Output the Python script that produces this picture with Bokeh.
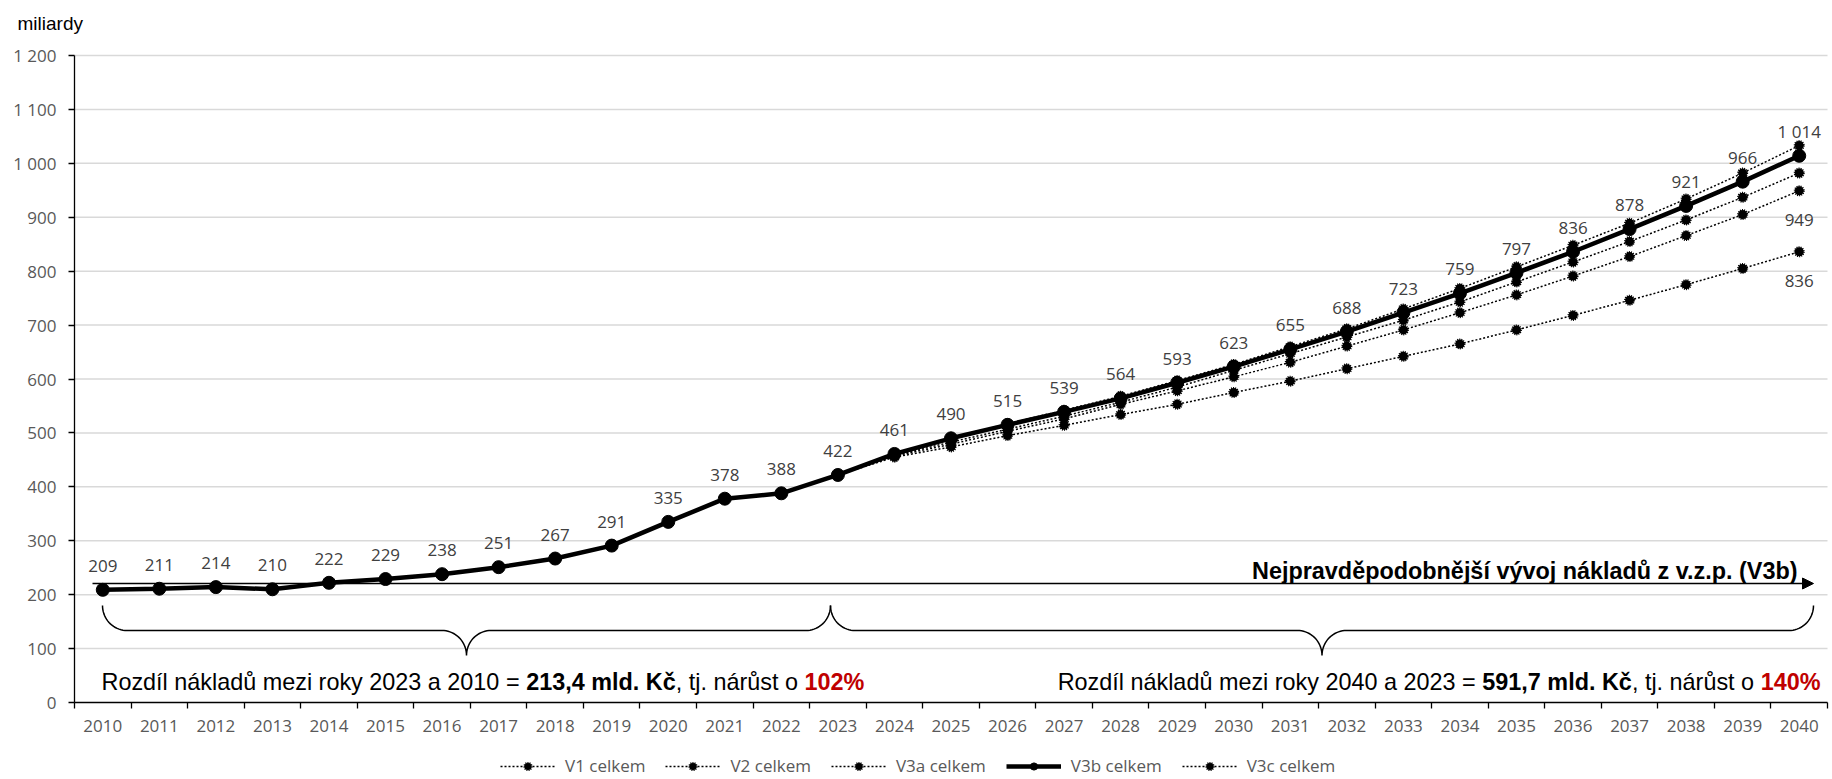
import numpy as np
from bokeh.plotting import figure
from bokeh.models import (Range1d, FixedTicker, Legend, LegendItem, Label, LabelSet,
                          Arrow, NormalHead, ColumnDataSource)
from bokeh.core.properties import value
from bokeh.embed import file_html
from bokeh.resources import INLINE

# ---------------- data ----------------
years = list(range(2010, 2041))
v3b = [209, 211, 214, 210, 222, 229, 238, 251, 267, 291, 335, 378, 388, 422, 461, 490,
       515, 539, 564, 593, 623, 655, 688, 723, 759, 797, 836, 878, 921, 966, 1014]
proj_years = list(range(2023, 2041))
v1 = [422, 455, 474, 495, 514, 534, 553, 575, 596, 619, 642, 665, 691, 718, 746, 775, 805, 836]
v2 = [422, 457, 479, 503, 526, 553, 578, 604, 631, 661, 691, 723, 756, 791, 827, 866, 905, 949]
v3a = [422, 458, 483, 507, 531, 557, 585, 616, 647, 678, 709, 743, 780, 817, 855, 895, 937, 982]
v3c = [422, 462, 491, 517, 542, 568, 597, 627, 660, 693, 730, 768, 808, 848, 889, 934, 982, 1033]
series_names = ["V1 celkem", "V2 celkem", "V3a celkem", "V3b celkem", "V3c celkem"]
y_ticks = list(range(0, 1300, 100))

def fmt(v):
    s = str(int(v))
    return s if len(s) <= 3 else s[:-3] + " " + s[-3:]

# ---------------- geometry helpers (page pixels -> data) ----------------
W, H = 1832, 779
AX_X = 74                       # page x of the y axis
RIGHT_X = 1827                  # page x of the right end of the x axis
TOP_Y = 55                      # page y of the value 1200
AX_Y = 702                      # page y of the value 0
PXX = (RIGHT_X - AX_X) / 31.0
PXY = (AX_Y - TOP_Y) / 1200.0
X_LO, X_HI = 2009.5, 2040.5

def yr(X):
    return X_LO + (X - AX_X) / PXX

def val(Y):
    return (AX_Y - Y) / PXY

# the frame covers the whole canvas; axes are pinned at the data origin
p = figure(width=W, height=H, x_range=Range1d(yr(0), yr(W)), y_range=Range1d(val(H), val(0)),
           output_backend="svg", toolbar_location=None,
           min_border_left=0, min_border_right=0, min_border_top=0, min_border_bottom=0)
p.outline_line_color = None
p.background_fill_color = "white"
p.border_fill_color = "white"
p.xgrid.grid_line_color = None
p.ygrid.grid_line_color = None

TICK_FONT = "Open Sans"
p.xaxis.fixed_location = 0
p.xaxis.bounds = (X_LO, X_HI)
p.xaxis.ticker = FixedTicker(ticks=years, minor_ticks=[y - 0.5 for y in years] + [X_HI])
p.xaxis.major_label_overrides = {y: str(y) for y in years}
p.xaxis.major_tick_out = 0
p.xaxis.major_tick_in = 0
p.xaxis.minor_tick_out = 6
p.xaxis.minor_tick_in = 0
p.xaxis.minor_tick_line_color = "black"
p.xaxis.minor_tick_line_width = 1.3
p.xaxis.axis_line_color = "black"
p.xaxis.axis_line_width = 1.3
p.xaxis.major_label_standoff = 11
p.xaxis.major_label_text_font = TICK_FONT
p.xaxis.major_label_text_font_size = "17px"
p.xaxis.major_label_text_color = "#595959"

p.yaxis.fixed_location = X_LO
p.yaxis.bounds = (0, 1200)
p.yaxis.ticker = FixedTicker(ticks=y_ticks)
p.yaxis.major_label_overrides = {t: fmt(t) for t in y_ticks}
p.yaxis.major_tick_out = 6
p.yaxis.major_tick_in = 0
p.yaxis.minor_tick_out = 0
p.yaxis.minor_tick_in = 0
p.yaxis.major_tick_line_color = "black"
p.yaxis.major_tick_line_width = 1.3
p.yaxis.axis_line_color = "black"
p.yaxis.axis_line_width = 1.3
p.yaxis.major_label_standoff = 12
p.yaxis.major_label_text_font = TICK_FONT
p.yaxis.major_label_text_font_size = "17px"
p.yaxis.major_label_text_color = "#595959"

# horizontal gridlines across the plot area only
grid_y = y_ticks[1:]
p.segment(x0=[X_LO] * len(grid_y), x1=[X_HI] * len(grid_y), y0=grid_y, y1=grid_y,
          line_color="#d9d9d9", line_width=1.5)

# ---------------- series ----------------
renderers = {}
for name, ys in [("V1 celkem", v1), ("V2 celkem", v2), ("V3a celkem", v3a), ("V3c celkem", v3c)]:
    l = p.line(proj_years, ys, line_color="black", line_width=1.5, line_dash="2 2")
    s = p.scatter(proj_years, ys, size=9, marker="circle", fill_color="black",
                  line_color="black", line_width=2, line_dash="1 1")
    renderers[name] = [l, s]

lb = p.line(years, v3b, line_color="black", line_width=4.5)
sb = p.scatter(years, v3b, size=13, marker="circle", fill_color="black", line_color="black")
renderers["V3b celkem"] = [lb, sb]

# data labels
lab_src = ColumnDataSource(dict(x=years, y=v3b, t=[fmt(v) for v in v3b]))
p.add_layout(LabelSet(x="x", y="y", text="t", source=lab_src, y_offset=24,
                      text_align="center", text_baseline="middle",
                      text_font=value(TICK_FONT), text_font_size="17px", text_color="#404040"))
end_src = ColumnDataSource(dict(x=[proj_years[-1], proj_years[-1]], y=[v2[-1], v1[-1]],
                                t=[fmt(v2[-1]), fmt(v1[-1])]))
p.add_layout(LabelSet(x="x", y="y", text="t", source=end_src, y_offset=-29,
                      text_align="center", text_baseline="middle",
                      text_font=value(TICK_FONT), text_font_size="17px", text_color="#404040"))

# ---------------- legend ----------------
items = [LegendItem(label=n, renderers=renderers[n]) for n in series_names]
leg = Legend(items=items, orientation="horizontal", location=(500, 2),
             glyph_width=55, glyph_height=18, label_height=18, label_standoff=10,
             spacing=20, padding=0, margin=0, border_line_color=None,
             background_fill_alpha=0, label_text_font=TICK_FONT,
             label_text_font_size="17px", label_text_color="#595959")
p.add_layout(leg, "center")

# ---------------- annotations ----------------
ANN_FONT = "Liberation Sans"
ANN_SIZE = 23.4
reg_w = {' ': 278, '%': 889, ',': 278, '.': 278, '=': 584, 'R': 722, 'K': 667,
         'a': 556, 'á': 556, 'd': 556, 'e': 556, 'i': 222, 'í': 278, 'j': 222, 'k': 500,
         'l': 222, 'm': 833, 'n': 556, 'o': 556, 'r': 333, 's': 500, 't': 278, 'u': 556,
         'ů': 556, 'y': 500, 'z': 500, 'č': 500}
bold_w = {' ': 278, '%': 889, ',': 278, '.': 278, 'K': 722, 'd': 611, 'l': 278,
          'm': 889, 'č': 556}
for c in "0123456789":
    reg_w[c] = 556
    bold_w[c] = 556

def tw(s, bold):
    tab = bold_w if bold else reg_w
    return sum(tab.get(c, 556) for c in s) * ANN_SIZE / 1000.0

def rich(segments, x_left_px, baseline_px):
    off = 0.0
    for txt, bold, col in segments:
        p.add_layout(Label(x=yr(x_left_px), y=val(baseline_px), x_offset=off, text=txt,
                           text_font=ANN_FONT, text_font_size=f"{ANN_SIZE}px",
                           text_font_style="bold" if bold else "normal",
                           text_color=col, text_align="left", text_baseline="alphabetic"))
        off += tw(txt, bold)
    return off

seg_left = [("Rozdíl nákladů mezi roky 2023 a 2010 = ", False, "black"),
            ("213,4 mld. Kč", True, "black"),
            (", tj. nárůst o ", False, "black"),
            ("102%", True, "#C00000")]
seg_right = [("Rozdíl nákladů mezi roky 2040 a 2023 = ", False, "black"),
             ("591,7 mld. Kč", True, "black"),
             (", tj. nárůst o ", False, "black"),
             ("140%", True, "#C00000")]
rich(seg_left, 101, 681)
total_r = sum(tw(t, b) for t, b, c in seg_right)
rich(seg_right, 1820 - total_r, 681)

p.add_layout(Label(x=yr(1797), y=val(570), text="Nejpravděpodobnější vývoj nákladů z v.z.p. (V3b)",
                   text_font=ANN_FONT, text_font_size=f"{ANN_SIZE}px", text_font_style="bold",
                   text_color="black", text_align="right", text_baseline="alphabetic"))

p.add_layout(Label(x=yr(17), y=val(22.5), text="miliardy", text_font=ANN_FONT,
                   text_font_size="19px", text_color="black", text_align="left",
                   text_baseline="alphabetic"))

p.add_layout(Arrow(end=NormalHead(size=11, fill_color="black", line_color="black", line_width=1),
                   x_start=yr(92), y_start=val(583), x_end=yr(1813), y_end=val(583),
                   line_color="black", line_width=1.3))

# braces
def brace(x0, x1, xm, top=605.0, mid=630.0, tip=655.0, r=24.5):
    t = np.linspace(0, np.pi / 2, 20)
    px, py = [], []
    px += list(x0 + r - r * np.cos(t)); py += list(top + (mid - top) * np.sin(t))
    px += list(xm - r + r * np.sin(t)); py += list(tip - (tip - mid) * np.cos(t))
    px += list(xm + r - r * np.cos(t)); py += list(tip - (tip - mid) * np.sin(t))
    px += list(x1 - r + r * np.sin(t)); py += list(top + (mid - top) * np.cos(t))
    return [yr(x) for x in px], [val(y) for y in py]

for (a, b, m) in [(102, 830, 466), (830, 1813, 1321.5)]:
    bx, by = brace(a, b, m)
    p.line(bx, by, line_color="black", line_width=1.5)

open("out.html", "w").write(file_html(p, INLINE))
